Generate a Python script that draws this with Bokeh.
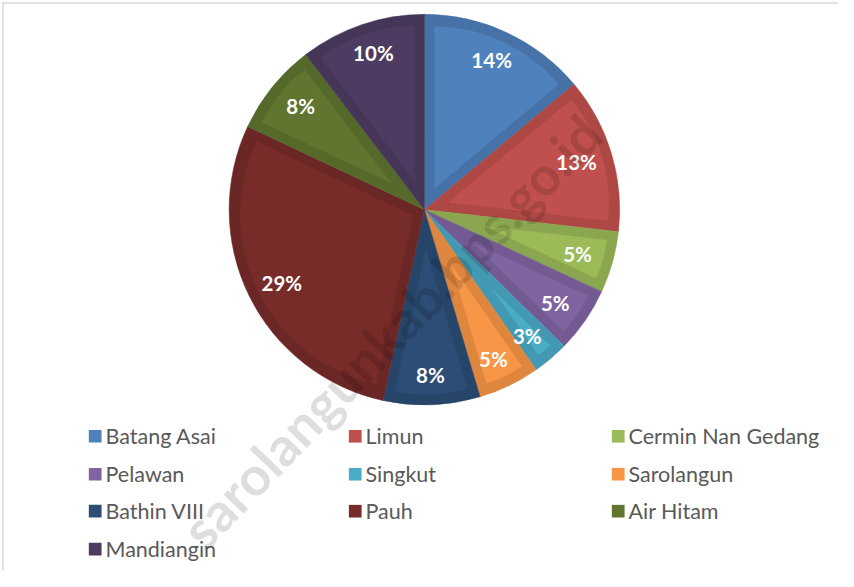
import math
from bokeh.plotting import figure
from bokeh.models import Range1d, ColumnDataSource
from bokeh.core.properties import value
from bokeh.embed import file_html
from bokeh.resources import INLINE

# ---- data ----
districts = ["Batang Asai", "Limun", "Cermin Nan Gedang", "Pelawan", "Singkut",
             "Sarolangun", "Bathin VIII", "Pauh", "Air Hitam", "Mandiangin"]
shares = [13.9, 12.9, 5.1, 5.4, 3.0, 5.1, 8.0, 28.6, 7.6, 10.4]
pct_labels = ["14%", "13%", "5%", "5%", "3%", "5%", "8%", "29%", "8%", "10%"]
fill_colors = ["#4F81BD", "#C0504D", "#9BBB59", "#8064A2", "#4BACC6",
               "#F79646", "#2C4D75", "#772C2A", "#5F7530", "#4D3B62"]
edge_colors = ["#4672A8", "#AD4844", "#8AA74F", "#735A92", "#4299B1",
               "#DE863E", "#274469", "#6A2725", "#55692B", "#453557"]
watermark_text = "sarolangunkab.bps.go.id"

# ---- layout: data units = reference-image pixels (854 x 587), y up ----
W, H = 838, 571
RW, RH = 854, 587
p = figure(width=W, height=H, x_range=Range1d(0, RW), y_range=Range1d(0, RH),
           output_backend="svg", toolbar_location=None, min_border=0)
p.axis.visible = False
p.grid.visible = False
p.outline_line_color = None
p.background_fill_color = "white"

def py(y):  # reference pixel y -> data y
    return RH - y

CX, CY, R = 432, py(215), 199
INSET = 10
LABEL_RX, LABEL_RY = 162, 170

total = sum(shares)
starts, ends = [], []
cum = 0.0
for v in shares:
    starts.append(math.pi / 2 - 2 * math.pi * cum / total)
    cum += v
    ends.append(math.pi / 2 - 2 * math.pi * cum / total)

# outer (border-coloured) wedges
src = ColumnDataSource(dict(start=starts, end=ends, color=edge_colors))
p.wedge(x=CX, y=CY, radius=R, start_angle="start", end_angle="end", direction="clock",
        fill_color="color", line_color="color", line_width=0.5, source=src)

# inner (lighter) inset wedges
ix, iy, ir, lx, ly = [], [], [], [], []
for a0, a1 in zip(starts, ends):
    mid = (a0 + a1) / 2
    half = (a0 - a1) / 2
    s = INSET / math.sin(half)
    ix.append(CX + s * math.cos(mid))
    iy.append(CY + s * math.sin(mid))
    ir.append(max(R - INSET - s, 0))
    lx.append(CX + LABEL_RX * math.cos(mid))
    ly.append(CY + LABEL_RY * math.sin(mid))
isrc = ColumnDataSource(dict(x=ix, y=iy, r=ir, start=starts, end=ends, color=fill_colors))
p.wedge(x="x", y="y", radius="r", start_angle="start", end_angle="end", direction="clock",
        fill_color="color", line_color=None, source=isrc)

# percentage labels
p.text(x=lx, y=ly, text=pct_labels, text_color="white", text_font=value("Lato"),
       text_font_style="bold", text_font_size="20.5px", text_align="center",
       text_baseline="middle")

# legend (3 columns)
col_x = [90, 355, 623]
row_y = [448, 487, 525, 564]
sq_x, sq_y, tx, ty = [], [], [], []
for i, name in enumerate(districts):
    c, r = i % 3, i // 3
    sq_x.append(col_x[c] + 6.5)
    sq_y.append(py(row_y[r]))
    tx.append(col_x[c] + 17)
    ty.append(py(row_y[r]))
p.rect(x=sq_x, y=sq_y, width=13, height=13, fill_color=fill_colors, line_color=None)
p.text(x=tx, y=ty, text=districts, text_color="#595959", text_font=value("Lato"),
       text_font_size="21.5px", text_align="left", text_baseline="middle")

# chart frame (top / left hairlines)
p.segment(x0=[2, 2.5], y0=[py(2.5), py(2)], x1=[RW, 2.5], y1=[py(2.5), 0],
          line_color="#D9D9D9", line_width=1.5)

# watermark
p.text(x=[398], y=[py(340)], text=[watermark_text], angle=math.radians(46),
       text_color="black", text_alpha=0.13, text_font=value("Lato"),
       text_font_style="bold", text_font_size="54px", text_align="center",
       text_baseline="middle")

open("out.html", "w").write(file_html(p, INLINE))
